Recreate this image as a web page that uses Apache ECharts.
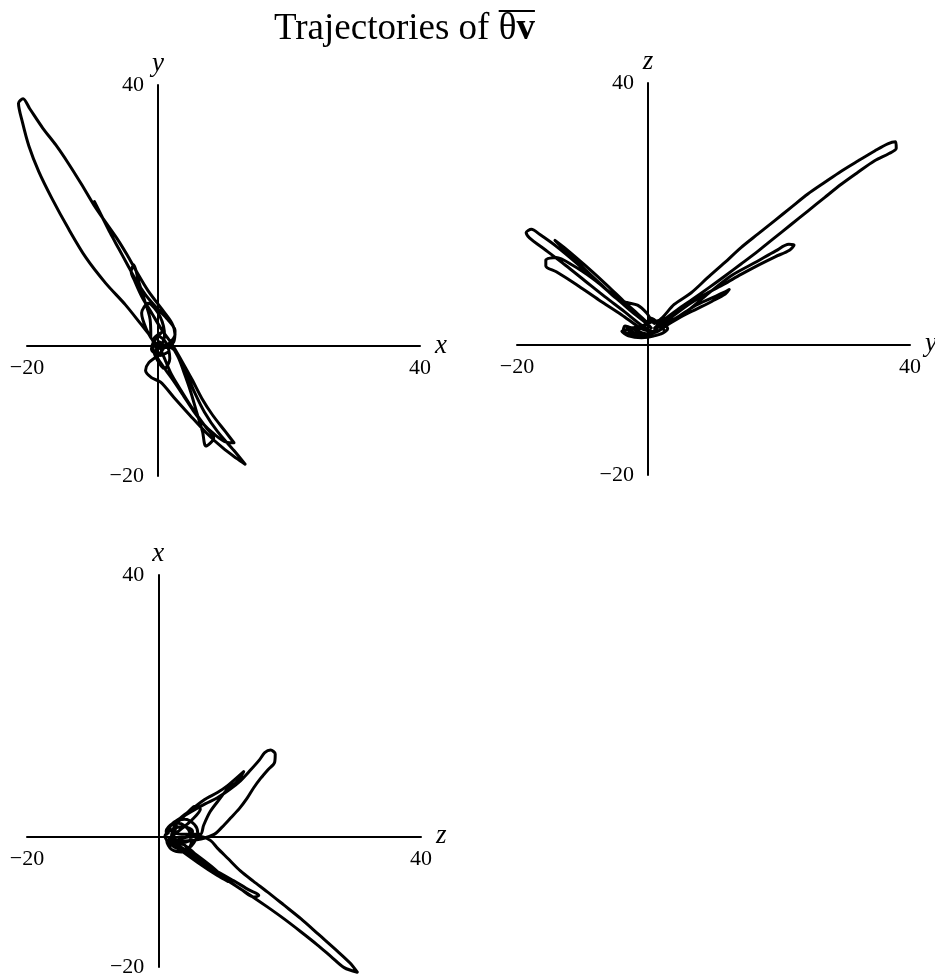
<!DOCTYPE html>
<html>
<head>
<meta charset="utf-8">
<script src="https://cdn.jsdelivr.net/npm/echarts@6/dist/echarts.min.js"></script>
<style>
  html, body { margin: 0; padding: 0; background: #fff; }
  #chart { width: 935px; height: 979px; }
</style>
</head>
<body>
<div id="chart"></div>
<script>
// Shared axis range and tick values for every projection
const axisMin = -20;
const axisMax = 40;
const tickStep = 60;

// Axis names for each projection: [horizontal, vertical]
const xyNames = ['x', 'y'];
const yzNames = ['y', 'z'];
const zxNames = ['z', 'x'];

// Trajectory projected on the x–y plane: [x, y]
const xyPath = [
  [-9.7, 22.1], [-8.6, 19.9], [-7.3, 17.3], [-6.0, 14.9], [-4.7, 12.5], [-3.4, 10.1], [-1.9, 7.8],
  [-0.2, 5.8], [1.5, 4.0], [2.6, 2.3], [2.4, 0.6], [1.3, -0.3], [0.2, 0.6],
  [-0.3, -1.2], [0.8, -3.2], [2.3, -5.3], [3.9, -7.7], [5.4, -10.0], [7.0, -12.1], [8.6, -13.6],
  [10.4, -14.8], [11.6, -14.9], [10.3, -13.2], [8.3, -10.6], [6.7, -8.1], [5.2, -5.2], [3.6, -2.3],
  [2.1, 0.3], [0.6, 2.4], [-0.9, 4.9], [-2.4, 7.4], [-3.5, 9.8], [-4.1, 11.4], [-3.7, 12.4],
  [-3.0, 10.0], [-2.0, 6.8], [-1.2, 4.0], [-1.1, 1.4],
  [-2.6, 3.3], [-5.0, 6.3], [-8.0, 9.6], [-11.0, 13.5], [-13.7, 18.0], [-16.2, 22.6], [-18.2, 26.7],
  [-19.7, 30.6], [-20.7, 34.3], [-21.3, 37.2], [-20.6, 37.9], [-19.6, 36.4], [-17.6, 33.4],
  [-15.6, 30.8], [-13.7, 28.0], [-11.7, 24.8], [-9.8, 21.6], [-7.9, 18.8], [-6.1, 16.2], [-4.7, 13.9],
  [-3.3, 11.4], [-1.5, 8.4], [0.6, 5.6], [2.1, 3.5], [2.6, 1.7], [1.7, 0.3], [0.5, -0.6],
  [1.1, -2.2], [2.1, -4.5], [3.6, -7.0], [5.5, -10.0], [7.3, -12.5], [8.5, -14.2], [7.3, -15.4],
  [6.8, -13.2], [5.9, -10.2], [5.0, -7.1], [4.0, -4.2], [3.0, -1.6], [1.6, 0.3],
  [0.1, -1.4], [-1.4, -2.6], [-1.9, -3.8], [-1.0, -4.9], [0.4, -5.6], [2.4, -7.9], [4.9, -10.7],
  [7.4, -13.4], [9.9, -15.7], [12.0, -17.3], [13.3, -18.2], [11.6, -16.1], [9.1, -13.2], [7.1, -10.2],
  [5.6, -7.2], [4.5, -4.6], [3.4, -2.1], [2.3, -0.5], [0.9, 0.1], [-0.6, 0.6],
  [-1.8, 2.6], [-2.5, 5.0], [-1.5, 6.5], [0.3, 4.5], [1.0, 1.5], [0.0, -0.5], [-0.8, 0.8],
  [0.5, 2.0], [-0.8, 0.0], [-0.2, -2.0], [1.0, -3.5], [1.8, -2.0], [1.2, 0.5], [0.0, 1.5],
  [-1.0, -0.5], [0.3, -1.5], [1.5, -1.0]
];

// Trajectory projected on the y–z plane: [y, z]
const yzPath = [
  [0.5, 2.5], [0.0, 3.0], [-2.5, 5.0], [-5.0, 7.2], [-8.0, 9.8], [-11.0, 12.5], [-14.0, 15.0],
  [-16.5, 16.8], [-17.8, 17.6], [-18.6, 17.1], [-18.1, 16.3], [-15.6, 14.4], [-12.6, 12.1],
  [-9.6, 9.7], [-6.6, 7.3], [-3.6, 5.0], [-1.1, 3.0], [0.5, 2.0],
  [-1.0, 2.4], [-4.0, 4.5], [-7.5, 6.8], [-11.0, 9.2], [-14.0, 11.1], [-15.6, 12.0], [-15.6, 12.9],
  [-14.0, 13.3], [-11.5, 12.1], [-8.5, 10.1], [-5.5, 7.7], [-2.5, 5.1], [-0.2, 3.4],
  [-1.5, 4.6], [-3.5, 6.4], [-6.2, 9.0], [-9.5, 12.0], [-12.4, 14.5], [-14.2, 15.9], [-13.4, 15.1],
  [-10.6, 12.4], [-7.3, 9.3], [-4.8, 7.0], [-3.2, 6.4], [-1.6, 6.0], [-0.2, 4.8], [1.0, 3.2],
  [2.2, 4.1], [4.0, 6.1], [6.6, 7.9], [9.1, 10.2], [11.7, 12.5], [14.2, 14.8], [16.8, 16.9],
  [19.3, 18.9], [21.9, 21.0], [24.4, 23.0], [27.0, 24.8], [29.5, 26.5], [32.1, 28.1], [34.6, 29.6],
  [36.6, 30.7], [37.8, 31.0], [37.9, 30.0], [36.8, 29.2], [34.6, 28.1], [32.0, 26.3], [29.5, 24.5],
  [27.0, 22.5], [24.4, 20.4], [21.8, 18.3], [19.3, 16.3], [16.7, 14.2], [14.2, 12.3], [11.8, 10.5],
  [9.2, 8.6], [6.8, 6.9], [4.5, 5.3], [2.5, 3.8], [1.0, 2.5],
  [3.0, 3.1], [6.0, 5.1], [9.0, 7.6], [12.7, 10.5], [16.5, 12.6], [19.5, 14.3], [21.5, 15.3],
  [22.3, 15.2], [21.6, 14.4], [19.4, 13.4], [17.0, 12.2], [14.2, 10.7], [11.6, 9.2], [9.0, 7.8],
  [6.5, 6.3], [4.0, 4.5], [2.0, 3.0],
  [4.2, 4.0], [7.0, 5.8], [9.5, 7.0], [11.5, 7.9], [12.4, 8.4], [11.8, 7.7], [9.8, 6.6], [7.4, 5.4],
  [5.0, 4.2], [3.0, 3.0], [1.5, 2.0],
  [0.0, 1.6], [-1.5, 2.0], [-3.5, 2.8], [-3.8, 2.0], [-2.0, 1.5], [0.0, 1.2], [2.0, 1.6], [3.0, 2.4],
  [1.5, 3.6], [0.0, 3.2], [-1.0, 2.4],
  [-2.5, 2.3], [-4.0, 2.0], [-3.0, 1.3], [-1.0, 1.0], [1.0, 1.3], [2.5, 2.0], [1.8, 3.0], [0.5, 4.0],
  [-0.5, 3.0], [-2.0, 2.6], [-3.2, 2.4], [-1.5, 1.6], [0.5, 1.8], [1.5, 2.6]
];

// Trajectory projected on the z–x plane: [z, x]
const zxPath = [
  [1.5, 0.5], [2.0, 1.8], [3.4, 2.8], [5.4, 4.0], [7.2, 5.0], [9.0, 5.9], [10.9, 7.2], [12.5, 8.5],
  [14.0, 10.1], [15.4, 11.7], [16.2, 12.8], [17.1, 13.2], [17.8, 12.6], [17.7, 11.3], [16.7, 10.2],
  [15.6, 8.9], [14.5, 7.4], [13.5, 5.8], [12.3, 4.2], [11.0, 2.8], [9.7, 1.4], [8.5, 0.3],
  [6.5, -0.4], [4.0, -0.7], [2.0, 0.0],
  [2.5, 1.6], [4.5, 3.6], [7.0, 5.6], [9.0, 6.7], [10.6, 7.8], [13.0, 9.9], [12.0, 8.4], [10.5, 7.2],
  [9.4, 5.8], [7.9, 3.8], [6.9, 1.7], [6.4, 0.3], [4.5, 0.3], [2.5, 0.5],
  [3.0, 2.4], [4.5, 3.7], [5.6, 4.6], [6.4, 4.2], [5.1, 2.5], [3.6, 1.2], [1.6, -0.6],
  [3.9, -1.3], [6.4, -3.4], [8.2, -4.9], [10.0, -6.3], [12.0, -7.7], [14.0, -9.0], [16.6, -10.8],
  [19.1, -12.6], [21.7, -14.6], [24.2, -16.6], [26.3, -18.4], [28.3, -20.1], [30.3, -20.8],
  [29.2, -19.4], [27.3, -17.6], [24.5, -15.1], [21.7, -12.6], [19.1, -10.5], [16.6, -8.5],
  [14.5, -6.9], [12.5, -5.3], [10.6, -3.4], [9.0, -1.8], [7.9, -0.6], [6.0, 0.0], [3.5, -0.3],
  [2.5, -1.0], [5.0, -2.8], [8.0, -4.8], [11.5, -6.8], [13.8, -8.2], [15.3, -9.0], [14.6, -9.3],
  [12.6, -8.1], [9.6, -6.1], [6.6, -3.9], [4.0, -2.0], [2.0, -0.8],
  [3.0, -1.8], [6.0, -4.0], [9.0, -6.0], [10.6, -6.9], [8.1, -4.6], [5.1, -2.3], [2.5, -0.5],
  [1.3, -0.8], [2.0, -2.0], [3.5, -2.4], [5.0, -1.1], [4.6, 1.0], [3.1, 2.0], [1.6, 1.5], [1.3, 0.3],
  [1.2, 0.8], [2.5, 2.2], [4.0, 2.6], [5.5, 1.8], [6.0, 0.5], [5.0, -1.5], [3.5, -2.0], [1.8, -1.2],
  [1.0, 0.0], [2.0, 1.0], [3.8, 1.5], [5.2, 0.8], [4.8, -0.6], [3.0, -1.0], [1.6, -0.2]
];

const serif = '"Liberation Serif", "DejaVu Serif", serif';
const ink = '#000';

// Panel placement in pixels (the plotted -20..40 square of each projection)
const panelRects = [
  { left: 27, top: 85, width: 393, height: 391 },
  { left: 517, top: 83, width: 393, height: 392 },
  { left: 27, top: 575, width: 394, height: 392 }
];

// Trajectories may stray a little past the axis ends, so they are drawn on
// invisible companion grids that extend the same scale by a margin on all sides.
const drawPad = 6;
const span = axisMax - axisMin;
const padRects = panelRects.map(r => {
  const sx = r.width / span, sy = r.height / span;
  return {
    left: r.left - drawPad * sx,
    top: r.top - drawPad * sy,
    width: r.width + 2 * drawPad * sx,
    height: r.height + 2 * drawPad * sy
  };
});

const gridList = panelRects.concat(padRects)
  .map(g => Object.assign({ containLabel: false, outerBoundsMode: 'none' }, g));

const panels = [
  { names: xyNames, path: xyPath },
  { names: yzNames, path: yzPath },
  { names: zxNames, path: zxPath }
];

const tickFormatter = v => String(v).replace('-', '\u2212');

// Fraction of each axis lying below zero; used to slide the axes onto the origin
const zeroFrac = (0 - axisMin) / span;

function axisBase(gridIndex, name) {
  return {
    gridIndex: gridIndex,
    type: 'value',
    min: axisMin,
    max: axisMax,
    interval: tickStep,
    name: name,
    nameLocation: 'end',
    nameTextStyle: { fontFamily: serif, fontStyle: 'italic', fontSize: 27, color: ink },
    axisLine: { onZero: false, lineStyle: { color: ink, width: 2 } },
    axisTick: { show: false },
    splitLine: { show: false },
    axisLabel: { fontFamily: serif, fontSize: 22, color: ink, formatter: tickFormatter }
  };
}

function hiddenAxis(gridIndex) {
  return {
    gridIndex: gridIndex,
    type: 'value',
    min: axisMin - drawPad,
    max: axisMax + drawPad,
    show: false
  };
}

const xAxes = panels.map((p, i) => {
  const a = axisBase(i, p.names[0]);
  a.position = 'bottom';
  a.offset = -panelRects[i].height * zeroFrac;
  a.nameGap = 10;
  a.nameTextStyle.padding = [6, 0, 0, 0];
  a.axisLabel.margin = 12;
  return a;
}).concat(panels.map((p, i) => hiddenAxis(i + 3)));

const yAxes = panels.map((p, i) => {
  const a = axisBase(i, p.names[1]);
  a.position = 'left';
  a.offset = -panelRects[i].width * zeroFrac;
  a.nameGap = 8;
  a.axisLabel.margin = 14;
  return a;
}).concat(panels.map((p, i) => hiddenAxis(i + 3)));

const series = panels.map((p, i) => ({
  type: 'line',
  xAxisIndex: i + 3,
  yAxisIndex: i + 3,
  data: p.path,
  showSymbol: false,
  smooth: 0.3,
  clip: false,
  lineStyle: { color: ink, width: 3, cap: 'round', join: 'round' },
  silent: true
}));

// Title pieces: plain words, then θ and a bold v under one overline
const titleSize = 37;
const titlePlain = 'Trajectories of ';
const titleSym = 'θ';
const titleBold = 'v';
const ctx = document.createElement('canvas').getContext('2d');
ctx.font = titleSize + 'px ' + serif;
const wPlain = ctx.measureText(titlePlain).width;
const wSym = ctx.measureText(titleSym).width;
ctx.font = 'bold ' + titleSize + 'px ' + serif;
const wBold = ctx.measureText(titleBold).width;
const titleLeft = 274;
const titleTop = 11;

const chart = echarts.init(document.getElementById('chart'), null, { renderer: 'canvas' });
chart.setOption({
  animation: false,
  backgroundColor: '#fff',
  grid: gridList,
  xAxis: xAxes,
  yAxis: yAxes,
  series: series,
  graphic: [
    { type: 'text', left: titleLeft, top: titleTop,
      style: { text: titlePlain, font: titleSize + 'px ' + serif, fill: ink } },
    { type: 'text', left: titleLeft + wPlain, top: titleTop,
      style: { text: titleSym, font: titleSize + 'px ' + serif, fill: ink } },
    { type: 'text', left: titleLeft + wPlain + wSym, top: titleTop,
      style: { text: titleBold, font: 'bold ' + titleSize + 'px ' + serif, fill: ink } },
    { type: 'line', shape: { x1: titleLeft + wPlain, y1: 11, x2: titleLeft + wPlain + wSym + wBold, y2: 11 },
      style: { stroke: ink, lineWidth: 2 } }
  ]
});
</script>
</body>
</html>
